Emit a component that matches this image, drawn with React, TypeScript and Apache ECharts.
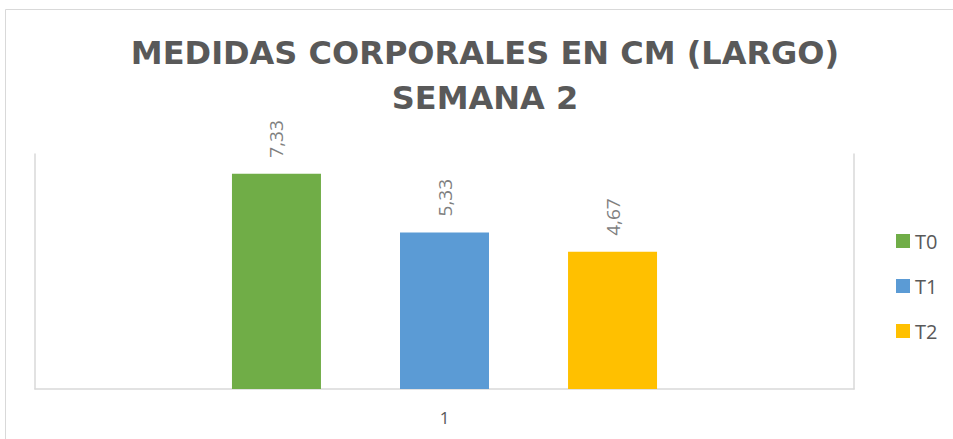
import React, { useEffect, useRef } from "react";
import * as echarts from "echarts";

const categories = ["1"];
const seriesNames = ["T0", "T1", "T2"];
const seriesValues = [7.33, 5.33, 4.67];
const seriesColors = ["#70ad47", "#5b9bd5", "#ffc000"];
const titleText = "MEDIDAS CORPORALES EN CM (LARGO)\nSEMANA 2";

export default function App() {
  const ref = useRef<HTMLDivElement>(null);
  useEffect(() => {
    if (!ref.current) return;
    const chart = echarts.init(ref.current, null, { renderer: "svg" });
    chart.setOption({
      animation: false,
      backgroundColor: "#ffffff",
      title: {
        text: titleText,
        left: 480,
        textAlign: "center",
        top: 25,
        textStyle: {
          fontFamily: "DejaVu Sans",
          fontWeight: "bold",
          fontSize: 32,
          lineHeight: 45,
          color: "#595959",
        },
      },
      graphic: [
        {
          type: "rect",
          shape: { x: 5.5, y: 9.5, width: 1000, height: 1000 },
          style: { fill: "none", stroke: "#d9d9d9", lineWidth: 1 },
          silent: true,
        },
      ],
      legend: {
        orient: "vertical",
        left: 891,
        top: 226,
        itemWidth: 14,
        itemHeight: 14,
        itemGap: 25,
        icon: "rect",
        textStyle: {
          fontFamily: "Open Sans",
          fontSize: 20,
          lineHeight: 20,
          color: "#595959",
        },
        data: seriesNames,
      },
      grid: { left: 35, right: 99, top: 154, bottom: 50 },
      xAxis: {
        type: "category",
        data: categories,
        axisLine: { show: true, lineStyle: { color: "#d9d9d9", width: 1.5 } },
        axisTick: { show: false },
        axisLabel: {
          fontFamily: "Open Sans",
          fontSize: 17,
          color: "#595959",
          margin: 20,
        },
      },
      yAxis: [
        {
          type: "value",
          min: 0,
          max: 8,
          position: "left",
          axisLine: { show: true, lineStyle: { color: "#d9d9d9", width: 1.5 } },
          axisTick: { show: false },
          axisLabel: { show: false },
          splitLine: { show: false },
        },
        {
          type: "value",
          min: 0,
          max: 8,
          position: "right",
          axisLine: { show: true, lineStyle: { color: "#d9d9d9", width: 1.5 } },
          axisTick: { show: false },
          axisLabel: { show: false },
          splitLine: { show: false },
        },
      ],
      series: seriesNames.map((name, i) => ({
        name,
        type: "bar",
        yAxisIndex: 0,
        data: [seriesValues[i]],
        barWidth: 89,
        barGap: "88.8%",
        itemStyle: { color: seriesColors[i] },
        label: {
          show: true,
          position: "top",
          distance: 16,
          rotate: 90,
          align: "left",
          verticalAlign: "middle",
          fontFamily: "Open Sans",
          fontSize: 19,
          color: "#7f7f7f",
          formatter: (p: any) => String(p.value.toFixed(2)).replace(".", ","),
        },
      })),
    });
    return () => chart.dispose();
  }, []);
  return (
    <div
      ref={ref}
      style={{ position: "fixed", left: 0, top: 0, width: 953, height: 439 }}
    />
  );
}
